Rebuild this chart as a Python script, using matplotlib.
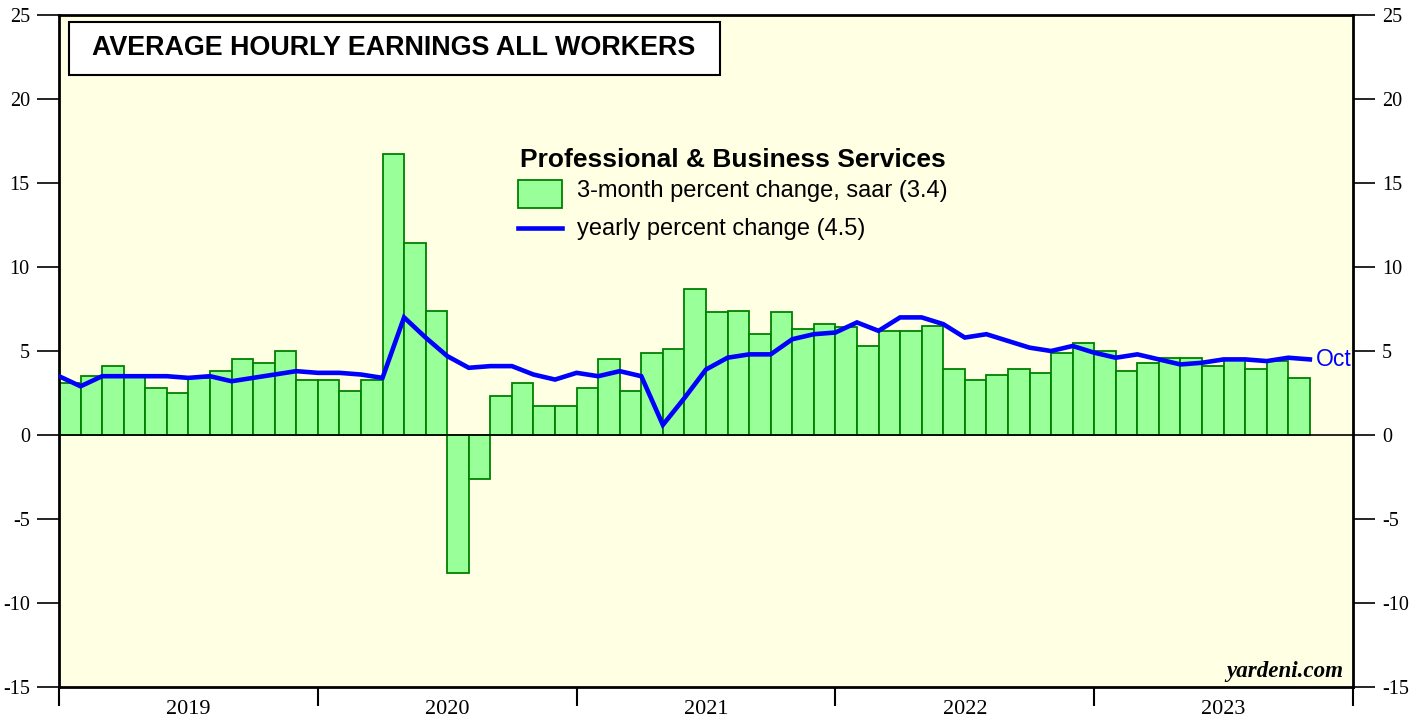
import matplotlib
matplotlib.use("Agg")
import matplotlib.patches as patches
import numpy as np
import pandas as pd
from matplotlib import pyplot as plt
from matplotlib.lines import Line2D

# 3-month percent change, saar: Jan 2019 .. Oct 2023
saar_3m = [
    3.1, 3.5, 4.1, 3.5, 2.8, 2.5, 3.4, 3.8, 4.5, 4.3, 5.0, 3.3,
    3.3, 2.6, 3.3, 16.7, 11.4, 7.4, -8.2, -2.6, 2.3, 3.1, 1.7, 1.7,
    2.8, 4.5, 2.6, 4.9, 5.1, 8.7, 7.3, 7.4, 6.0, 7.3, 6.3, 6.6,
    6.4, 5.3, 6.2, 6.2, 6.5, 3.9, 3.3, 3.6, 3.9, 3.7, 4.9, 5.5,
    5.0, 3.8, 4.3, 4.6, 4.6, 4.1, 4.5, 3.9, 4.4, 3.4,
]
# yearly percent change: Dec 2018 .. Oct 2023
yoy = [
    3.5,
    2.9, 3.5, 3.5, 3.5, 3.5, 3.4, 3.5, 3.2, 3.4, 3.6, 3.8, 3.7,
    3.7, 3.6, 3.4, 7.0, 5.8, 4.7, 4.0, 4.1, 4.1, 3.6, 3.3, 3.7,
    3.5, 3.8, 3.5, 0.6, 2.2, 3.9, 4.6, 4.8, 4.8, 5.7, 6.0, 6.1,
    6.7, 6.2, 7.0, 7.0, 6.6, 5.8, 6.0, 5.6, 5.2, 5.0, 5.3, 4.9,
    4.6, 4.8, 4.5, 4.2, 4.3, 4.5, 4.5, 4.4, 4.6, 4.5,
]
bar_months = pd.date_range("2019-01-01", periods=len(saar_3m), freq="MS")
line_months = pd.date_range("2018-12-01", periods=len(yoy), freq="MS")
years = ["2019", "2020", "2021", "2022", "2023"]

title = "AVERAGE HOURLY EARNINGS ALL WORKERS"
series_name = "Professional & Business Services"
bar_label = "3-month percent change, saar (%.1f)" % saar_3m[-1]
line_label = "yearly percent change (%.1f)" % yoy[-1]

plt.rcParams["axes.unicode_minus"] = False

W, H = 1421, 721
fig = plt.figure(figsize=(W / 100, H / 100), dpi=100)
ax = fig.add_axes([59 / W, (H - 687) / H, (1353 - 59) / W, (687 - 15) / H])
ax.set_facecolor("#FFFFE4")

sans = ["Liberation Sans", "DejaVu Sans"]
serif = ["Liberation Serif", "DejaVu Serif"]

# month index counted from Jan 2019; a bar fills its month,
# the yearly line is plotted at each month's end
bar_x = np.arange(len(bar_months))
line_x = np.arange(len(line_months))
ax.bar(bar_x, saar_3m, width=1.0, align="edge", color="#99FF99",
       edgecolor="#008000", linewidth=1.3, zorder=2)
ax.plot(line_x, yoy, color="#0000FF", linewidth=3.3, zorder=3,
        solid_joinstyle="miter")
ax.axhline(0, color="black", linewidth=1.2, zorder=2.5)

ax.text(line_x[-1] + 0.3, yoy[-1], line_months[-1].strftime("%b"),
        color="#0000FF", fontsize=16.5, family=sans, va="center", ha="left")

ax.set_xlim(0, 12 * len(years))
ax.set_ylim(-15, 25)

# y axis: ticks and labels on both sides
ax.set_yticks(np.arange(-15, 26, 5))
ax.tick_params(axis="y", which="both", direction="out", length=16, width=1.2,
               left=True, right=True, labelleft=True, labelright=True,
               labelsize=14.5, pad=5)
for lbl in ax.get_yticklabels():
    lbl.set_family(serif)

# x axis: year boundaries as major ticks, year names centred between them
ax.set_xticks(np.arange(0, 12 * len(years) + 1, 12))
ax.set_xticklabels([])
ax.set_xticks(np.arange(6, 12 * len(years), 12), minor=True)
ax.set_xticklabels(years, minor=True)
ax.tick_params(axis="x", which="major", direction="out", length=14, width=1.5)
ax.tick_params(axis="x", which="minor", length=0, labelsize=16, pad=9)
for lbl in ax.get_xticklabels(minor=True):
    lbl.set_family(serif)

for sp in ax.spines.values():
    sp.set_linewidth(2.0)

# title box
ax.add_patch(patches.Rectangle((10 / 1294, (687 - 75) / 672), 651 / 1294, 53 / 672,
                               transform=ax.transAxes, facecolor="white",
                               edgecolor="black", linewidth=1.5, zorder=4))
ax.text(33 / 1294, (687 - 48) / 672, title, transform=ax.transAxes,
        fontsize=19.4, fontweight="bold", family=sans, va="center", ha="left", zorder=5)

# legend block
ax.text(0.521, (687 - 160) / 672, series_name, transform=ax.transAxes,
        fontsize=19, fontweight="bold", family=sans, va="center", ha="center")
ax.add_patch(patches.Rectangle(((518 - 59) / 1294, (687 - 208) / 672), 44 / 1294, 28 / 672,
                               transform=ax.transAxes, facecolor="#99FF99",
                               edgecolor="#008000", linewidth=1.3, zorder=4))
ax.text((577 - 59) / 1294, (687 - 191) / 672, bar_label, transform=ax.transAxes,
        fontsize=17, family=sans, va="center", ha="left")
ax.add_line(Line2D([(518 - 59) / 1294, (562 - 59) / 1294], [(687 - 228) / 672] * 2,
                   transform=ax.transAxes, color="#0000FF", linewidth=3.3))
ax.text((577 - 59) / 1294, (687 - 229) / 672, line_label, transform=ax.transAxes,
        fontsize=17, family=sans, va="center", ha="left")

ax.text((1343 - 59) / 1294, (687 - 672) / 672, "yardeni.com", transform=ax.transAxes,
        fontsize=16.6, fontweight="bold", fontstyle="italic", family=serif,
        va="center", ha="right")

fig.savefig("out.png", dpi=100)
